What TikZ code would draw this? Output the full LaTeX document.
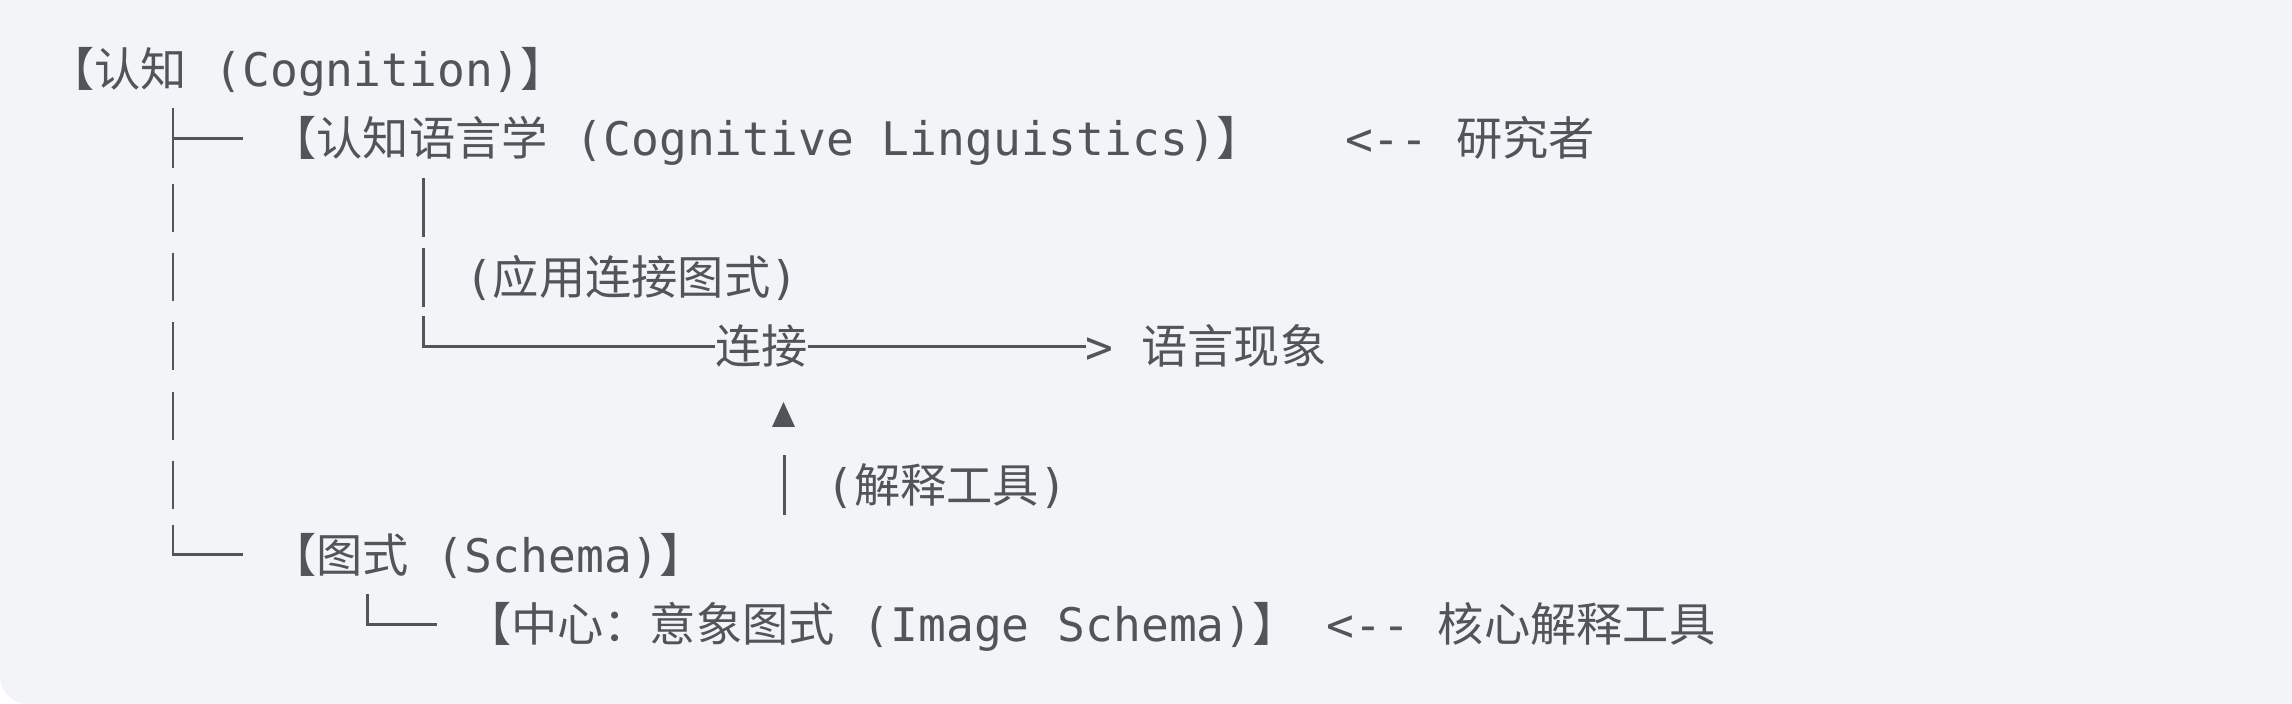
\documentclass[tikz,border=0pt]{standalone}
\usepackage{fontspec}
\setmonofont{DejaVu Sans Mono}
\newfontfamily\cjkfont{Noto Sans CJK SC}
\newfontfamily\monofont{DejaVu Sans Mono}
\newcommand\zh[1]{{\cjkfont #1}}
\definecolor{bg}{HTML}{F3F4F8}
\definecolor{ink}{HTML}{515459}
\tikzset{
  txt/.style={anchor=base west, inner sep=0pt, outer sep=0pt, text=ink,
    font=\monofont\fontsize{13.15pt}{15pt}\selectfont},
  tree/.style={draw=ink, line width=0.8pt, line join=miter, line cap=butt},
}
\begin{document}
\begin{tikzpicture}[x=0.01cm, y=-0.01cm]
\useasboundingbox (0,0) rectangle (2292,704);
\fill[white] (0,0) rectangle (2292,704);
\fill[bg, rounded corners=0.28cm] (0,0) rectangle (2292,704);
\fill[bg] (0,0) rectangle (100,100);
\fill[bg] (2192,0) rectangle (2292,704);

% text nodes (baseline = line centre + 17.4)
\node[txt] (root)  at (48,86.3)    {\zh{【认知} (Cognition)\zh{】}};
\node[txt] (cl)    at (270.4,155.7) {\zh{【认知语言学} (Cognitive Linguistics)\zh{】}};
\node[txt] (rA)    at (1345.1,155.7) {<-{}- \zh{研究者}};
\node[txt] (app)   at (465,294.5)   {(\zh{应用连接图式})};
\node[txt] (lj)    at (715.2,363.9) {\zh{连接}};
\node[txt] (gt)    at (1085.8,363.9) {>};
\node[txt] (yy)    at (1141.4,363.9) {\zh{语言现象}};
\node[txt] (tool)  at (826.4,502.7) {(\zh{解释工具})};
\node[txt] (sch)   at (270.4,572.1) {\zh{【图式} (Schema)\zh{】}};
\node[txt] (img)   at (465,641.5)   {\zh{【中心：意象图式} (Image Schema)\zh{】}};
\node[txt] (rB)    at (1326.5,641.5) {<-{}- \zh{核心解释工具}};

% tree joints
\coordinate (a2) at (173,138.3);
\coordinate (a8) at (173,554.7);
\coordinate (b5) at (423.3,346.5);
\coordinate (c9) at (367.7,624.1);

% left column
\draw[tree] (173,108.3) -- (173,168.3);
\draw[tree] (a2) -- (242.6,138.3);
\foreach \yy in {207.7,277.1,346.5,415.9,485.3}
  \draw[tree] (173,\yy-24) -- (173,\yy+24);
\draw[tree] (173,524.7) -- (a8) -- (242.6,554.7);

% second column
\draw[tree] (423.3,178.2) -- (423.3,237.2);
\draw[tree] (423.3,247.6) -- (423.3,306.6);
\draw[tree] (423.3,316.5) -- (b5) -- (b5 -| lj.west);
\draw[tree] (lj.east |- b5) -- (b5 -| gt.west);

% upward marker and pipe
\fill[ink] (772,427) -- (783.5,402) -- (795,427) -- cycle;
\draw[tree] (784.2,455.3) -- (784.2,515.3);

% schema sub-branch
\draw[tree] (367.7,594.1) -- (c9) -- (437.2,624.1);
\end{tikzpicture}
\end{document}
